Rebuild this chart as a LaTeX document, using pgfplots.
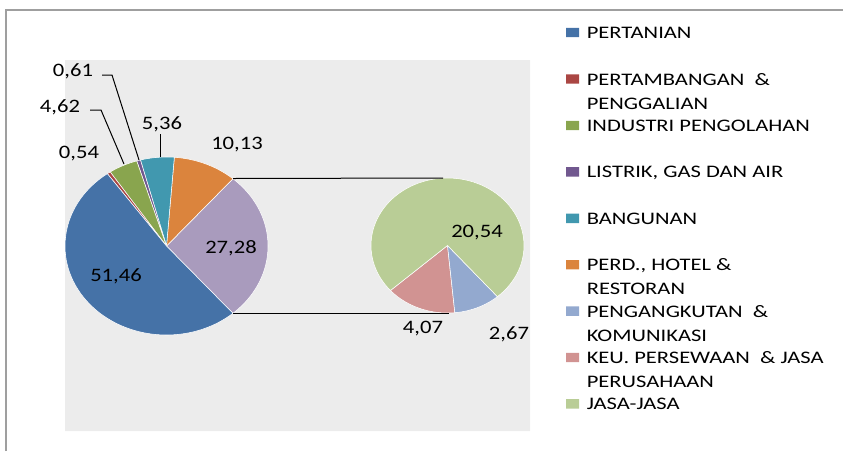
\documentclass[border=0pt]{standalone}
\usepackage{pgfplots}
\pgfplotsset{compat=1.18}
\usepackage{fontspec}
\setmainfont{Carlito}[FakeStretch=1.19]
\newfontfamily\legfont{Carlito}[FakeStretch=1.28]
\definecolor{cA}{HTML}{4572A7}
\definecolor{cB}{HTML}{AA4643}
\definecolor{cC}{HTML}{89A54E}
\definecolor{cD}{HTML}{71588F}
\definecolor{cE}{HTML}{4198AF}
\definecolor{cF}{HTML}{DB843D}
\definecolor{cG}{HTML}{93A9CF}
\definecolor{cH}{HTML}{D19392}
\definecolor{cI}{HTML}{B9CD96}
\definecolor{cO}{HTML}{A99BBD}
\definecolor{bgtex}{HTML}{ECECEC}
% data (percent)
\def\vA{51.46}\def\vB{0.54}\def\vC{4.62}\def\vD{0.61}\def\vE{5.36}\def\vF{10.13}
\def\vG{2.67}\def\vH{4.07}\def\vI{20.54}
\pgfmathsetmacro\vO{\vG+\vH+\vI}
% main pie angles
\pgfmathsetmacro\mO{-1.8*\vO}
\pgfmathsetmacro\mOe{\mO+3.6*\vO}
\pgfmathsetmacro\mFe{\mOe+3.6*\vF}
\pgfmathsetmacro\mEe{\mFe+3.6*\vE}
\pgfmathsetmacro\mDe{\mEe+3.6*\vD}
\pgfmathsetmacro\mCe{\mDe+3.6*\vC}
\pgfmathsetmacro\mBe{\mCe+3.6*\vB}
\pgfmathsetmacro\mAe{\mBe+3.6*\vA}
% secondary pie angles
\pgfmathsetmacro\k{360/\vO}
\def\sH{-138.2}
\pgfmathsetmacro\sHe{\sH+\k*\vH}
\pgfmathsetmacro\sGe{\sHe+\k*\vG}
\pgfmathsetmacro\sIe{\sGe+\k*\vI}
\tikzset{dl/.style={font=\fontsize{14.25}{17}\selectfont, text=black, inner sep=0pt}}
% slice: color, cx, cy, rx, ry, a0, a1
\newcommand{\slice}[7]{%
  \addplot[fill=#1, draw=white, line width=0.4pt, domain=#6:#7, samples=80]
    ({#2+#4*cos(x)},{#3-#5*sin(x)}) -- (axis cs:#2,#3) -- cycle;}
\newcommand{\legentry}[4]{% color, y, line1, line2
  \addplot[fill=#1, draw=none] coordinates {(566,#2-4.7) (579,#2-4.7) (579,#2+4.7) (566,#2+4.7) (566,#2-4.7)};
  \node[anchor=base west, inner sep=0pt, font=\legfont\fontsize{13.2}{15}\selectfont] at (axis cs:586.5,#2+6) {#3};
  \node[anchor=base west, inner sep=0pt, font=\legfont\fontsize{13.2}{15}\selectfont] at (axis cs:586.5,#2+30.2) {#4};}
\begin{document}
\begin{tikzpicture}
\begin{axis}[
  width=632.25pt, height=338.25pt, scale only axis,
  xmin=0, xmax=843, ymin=0, ymax=451, y dir=reverse,
  hide axis, clip=false]
% background texture area
\addplot[fill=bgtex, draw=none] coordinates {(65,60) (530,60) (530,431) (65,431) (65,60)};
% frame
\addplot[draw=gray!75, line width=0.9pt] coordinates {(6,451) (6,10) (843,10)};
% main pie
\slice{cO}{166.5}{246}{101.5}{89}{\mO}{\mOe}
\slice{cF}{166.5}{246}{101.5}{89}{\mOe}{\mFe}
\slice{cE}{166.5}{246}{101.5}{89}{\mFe}{\mEe}
\slice{cD}{166.5}{246}{101.5}{89}{\mEe}{\mDe}
\slice{cC}{166.5}{246}{101.5}{89}{\mDe}{\mCe}
\slice{cB}{166.5}{246}{101.5}{89}{\mCe}{\mBe}
\slice{cA}{166.5}{246}{101.5}{89}{\mBe}{\mAe}
% secondary pie
\slice{cH}{447.5}{245.5}{76.5}{67.5}{\sH}{\sHe}
\slice{cG}{447.5}{245.5}{76.5}{67.5}{\sHe}{\sGe}
\slice{cI}{447.5}{245.5}{76.5}{67.5}{\sGe}{\sIe}
% connector lines
\addplot[black, line width=0.75pt] coordinates {(233,178.5) (443,178)};
\addplot[black, line width=0.75pt] coordinates {(233,313.3) (449,313.3)};
% leader lines
\addplot[black, line width=0.75pt] coordinates {(90,110) (101,110) (124,164)};
\addplot[black, line width=0.75pt] coordinates {(102,75) (112,75) (139,160)};
\addplot[black, line width=0.75pt] coordinates {(160,134) (160,157)};
% data labels
\node[dl] at (axis cs:116,276) {51,46};
\node[dl] at (axis cs:231,248) {27,28};
\node[dl] at (axis cs:237,145) {10,13};
\node[dl] at (axis cs:162,124) {5,36};
\node[dl] at (axis cs:79,154) {0,54};
\node[dl] at (axis cs:60,107) {4,62};
\node[dl] at (axis cs:73,71) {0,61};
\node[dl] at (axis cs:477,233) {20,54};
\node[dl] at (axis cs:423,329) {4,07};
\node[dl] at (axis cs:509,334) {2,67};
% legend
\legentry{cA}{32.5}{PERTANIAN}{}
\legentry{cB}{79}{PERTAMBANGAN \ \&}{PENGGALIAN}
\legentry{cC}{125.5}{INDUSTRI PENGOLAHAN}{}
\legentry{cD}{171.9}{LISTRIK, GAS DAN AIR}{}
\legentry{cE}{218.3}{BANGUNAN}{}
\legentry{cF}{264.7}{PERD., HOTEL \&}{RESTORAN}
\legentry{cG}{311.1}{PENGANGKUTAN \ \&}{KOMUNIKASI}
\legentry{cH}{357.5}{KEU. PERSEWAAN \ \& JASA}{PERUSAHAAN}
\legentry{cI}{403.9}{JASA-JASA}{}
\end{axis}
\pgfresetboundingbox
\path (current axis.south west) rectangle (current axis.north east);
\end{tikzpicture}
\end{document}
